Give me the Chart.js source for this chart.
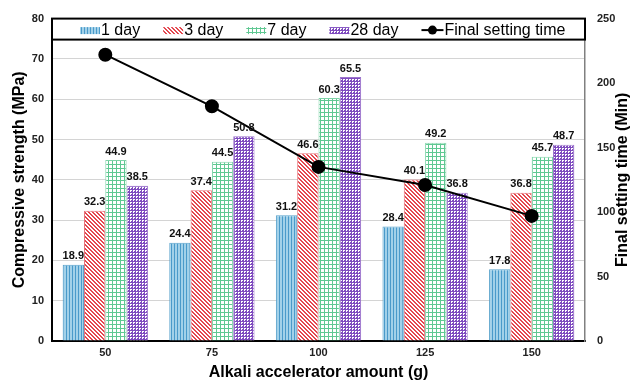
<!DOCTYPE html>
<html>
<head>
<meta charset="utf-8">
<script src="https://cdn.jsdelivr.net/npm/chart.js@4.4.1/dist/chart.umd.min.js"></script>
<style>
html,body{margin:0;padding:0;background:#fff;}
#wrap{width:636px;height:383px;position:relative;}
</style>
</head>
<body>
<div id="wrap"><canvas id="c" width="636" height="383"></canvas></div>
<script>
const categories = ['50', '75', '100', '125', '150'];
const day1 = [18.9, 24.4, 31.2, 28.4, 17.8];
const day3 = [32.3, 37.4, 46.6, 40.1, 36.8];
const day7 = [44.9, 44.5, 60.3, 49.2, 45.7];
const day28 = [38.5, 50.8, 65.5, 36.8, 48.7];
const settingTime = [222, 182, 135, 121, 97];
const seriesNames = ['1 day', '3 day', '7 day', '28 day', 'Final setting time'];
const rightTitle = 'Final setting time (Min)';

const FONT = "'Liberation Sans', Arial, sans-serif";

function makePattern(w, h, bg, fg, fn) {
  const c = document.createElement('canvas');
  c.width = w; c.height = h;
  const x = c.getContext('2d');
  x.fillStyle = bg; x.fillRect(0, 0, w, h);
  x.fillStyle = fg;
  for (let i = 0; i < w; i++) for (let j = 0; j < h; j++) if (fn(i, j)) x.fillRect(i, j, 1, 1);
  return x.createPattern(c, 'repeat');
}
const pBlue = makePattern(3, 1, '#a2d1e9', '#4a9aca', (i) => i === 0);
const pRed = makePattern(4, 4, '#ffffff', '#e4474f', (i, j) => ((i - j + 8) % 4) < 2);
const pGreen = makePattern(4, 4, '#ffffff', '#5fc892', (i, j) => i === 0 || j === 0);
const pPurple = makePattern(3, 3, '#ffffff', '#7f4cbf', (i, j) => i === 0 || j === 0 || (i === 2 && j === 2));
const patterns = [pBlue, pRed, pGreen, pPurple];
const borders = ['#5aa3cc', '#e8767c', '#7fd3a8', '#9c74cc'];

const valueLabels = {
  id: 'valueLabels',
  afterDatasetsDraw(chart) {
    const ctx = chart.ctx;
    ctx.save();
    ctx.font = 'bold 11px ' + FONT;
    ctx.fillStyle = '#111';
    ctx.textAlign = 'center';
    ctx.textBaseline = 'bottom';
    chart.data.datasets.forEach((ds, di) => {
      if (ds.type !== 'bar') return;
      const meta = chart.getDatasetMeta(di);
      meta.data.forEach((el, i) => {
        ctx.fillText(ds.data[i].toFixed(1), el.x, el.y - 3);
      });
    });
    ctx.restore();
  }
};

const boxLegend = {
  id: 'boxLegend',
  afterDraw(chart) {
    const ctx = chart.ctx;
    const a = chart.chartArea;
    ctx.save();
    const top = a.top, h = 21;
    ctx.fillStyle = '#fff';
    ctx.fillRect(a.left, top, a.right - a.left, h);
    ctx.strokeStyle = '#000';
    ctx.lineWidth = 2;
    ctx.strokeRect(a.left, top, a.right - a.left, h);
    ctx.font = '16px ' + FONT;
    ctx.textBaseline = 'middle';
    const cy = top + h / 2 + 1;
    let x = 80;
    chart.data.datasets.slice().sort((p, q) => p.legendIndex - q.legendIndex).forEach((ds) => {
      if (ds.type === 'bar') {
        ctx.fillStyle = ds.backgroundColor;
        ctx.fillRect(x, cy - 3, 20, 7);
        x += 21;
      } else {
        ctx.strokeStyle = '#000';
        ctx.lineWidth = 2;
        ctx.beginPath(); ctx.moveTo(x, cy); ctx.lineTo(x + 22, cy); ctx.stroke();
        ctx.fillStyle = '#000';
        ctx.beginPath(); ctx.arc(x + 11, cy, 4.5, 0, Math.PI * 2); ctx.fill();
        x += 23;
      }
      ctx.fillStyle = '#000';
      ctx.fillText(ds.label, x, cy);
      x += ctx.measureText(ds.label).width + 23;
    });
    // right axis title, read bottom-to-top
    const a1 = chart.scales.y1;
    ctx.translate(623, (a.top + a.bottom) / 2);
    ctx.rotate(-Math.PI / 2);
    ctx.font = 'bold 16px ' + FONT;
    ctx.textAlign = 'center';
    ctx.textBaseline = 'middle';
    ctx.fillStyle = '#000';
    ctx.fillText(rightTitle, 0, 0);
    ctx.restore();
  }
};

const barSets = [day1, day3, day7, day28].map((d, k) => ({
  type: 'bar',
  label: seriesNames[k],
  legendIndex: k,
  data: d,
  backgroundColor: patterns[k],
  borderColor: borders[k],
  borderWidth: 1,
  yAxisID: 'y',
  order: 1,
  barPercentage: 1.0,
  categoryPercentage: 0.8
}));

new Chart(document.getElementById('c'), {
  data: {
    labels: categories,
    datasets: [
      {
        type: 'line',
        label: seriesNames[4],
        legendIndex: 4,
        data: settingTime,
        borderColor: '#000',
        backgroundColor: '#000',
        borderWidth: 2,
        pointRadius: 6,
        pointBackgroundColor: '#000',
        pointBorderColor: '#000',
        tension: 0,
        yAxisID: 'y1',
        order: 0
      },
      ...barSets
    ]
  },
  options: {
    responsive: false,
    animation: false,
    devicePixelRatio: 1,
    layout: { padding: { top: 17, left: 0, right: 0, bottom: 0 } },
    plugins: { legend: { display: false }, tooltip: { enabled: false } },
    scales: {
      x: {
        offset: true,
        grid: { display: false, tickLength: 0 },
        border: { display: true, color: '#000', width: 2 },
        ticks: { color: '#222', font: { family: FONT, size: 11, weight: 'bold' }, padding: 5 },
        title: { display: true, text: 'Alkali accelerator amount (g)', color: '#000', font: { family: FONT, size: 16, weight: 'bold' }, padding: { top: 0, bottom: 1 } },
        afterFit: (s) => { s.height = 42; }
      },
      y: {
        position: 'left',
        min: 0, max: 80,
        ticks: { stepSize: 10, color: '#222', font: { family: FONT, size: 11, weight: 'bold' }, padding: 8 },
        grid: { color: '#d4d4d4', lineWidth: 1, drawTicks: false, tickLength: 0 },
        border: { display: true, color: '#000', width: 2 },
        title: { display: true, text: 'Compressive strength (MPa)', color: '#000', font: { family: FONT, size: 16, weight: 'bold' }, padding: { top: 10, bottom: 0 } },
        afterFit: (s) => { s.width = 52; }
      },
      y1: {
        position: 'right',
        min: 0, max: 250,
        ticks: { stepSize: 50, color: '#222', font: { family: FONT, size: 11, weight: 'bold' }, padding: 12 },
        grid: { display: false, drawTicks: false, tickLength: 0 },
        border: { display: true, color: '#808080', width: 1.5 },
        title: { display: false },
        afterFit: (s) => { s.width = 51; }
      }
    }
  },
  plugins: [valueLabels, boxLegend]
});
</script>
</body>
</html>
